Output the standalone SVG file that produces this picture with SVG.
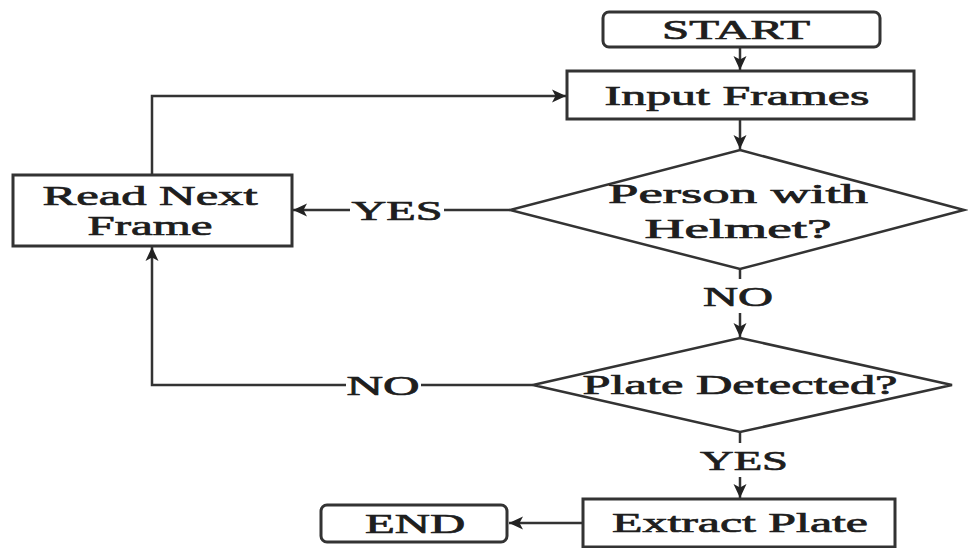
<svg xmlns="http://www.w3.org/2000/svg" width="968" height="548" viewBox="0 0 968 548">
<defs>
<marker id="ah" markerUnits="userSpaceOnUse" markerWidth="16" markerHeight="14" refX="14" refY="7" orient="auto">
<path d="M0,0.5 L14,7 L0,13.5 L3.5,7 z" fill="#222"/>
</marker>
<style>
.box{fill:#fff;stroke:#333;stroke-width:3}
.dia{fill:#fff;stroke:#333;stroke-width:2.5}
.ln{fill:none;stroke:#333;stroke-width:2.5}
.t{font-family:"Liberation Serif","Times New Roman",serif;font-size:27px;font-weight:normal;fill:#1e1e1e;stroke:#1e1e1e;stroke-width:0.7;text-anchor:middle}
</style>
</defs>
<rect width="968" height="548" fill="#fff"/>
<g id="connectors">
<line class="ln" x1="740" y1="47" x2="740" y2="70" marker-end="url(#ah)"/>
<line class="ln" x1="740" y1="119" x2="740" y2="149" marker-end="url(#ah)"/>
<polyline class="ln" points="510,210 444,210"/>
<line class="ln" x1="350" y1="210" x2="293" y2="210" marker-end="url(#ah)"/>
<polyline class="ln" points="152,175 152,96 566,96" marker-end="url(#ah)"/>
<line class="ln" x1="740" y1="269" x2="740" y2="279"/>
<line class="ln" x1="740" y1="313" x2="740" y2="337" marker-end="url(#ah)"/>
<line class="ln" x1="533" y1="385" x2="421" y2="385"/>
<polyline class="ln" points="346,385 152,385 152,247" marker-end="url(#ah)"/>
<line class="ln" x1="740" y1="432" x2="740" y2="443"/>
<line class="ln" x1="740" y1="477" x2="740" y2="498" marker-end="url(#ah)"/>
<line class="ln" x1="583" y1="523" x2="509" y2="523" marker-end="url(#ah)"/>
<text class="t" transform="translate(397,220) scale(1.8,1)" x="0" y="0" textLength="50.6" lengthAdjust="spacingAndGlyphs">YES</text>
<text class="t" transform="translate(738,306) scale(1.8,1)" x="0" y="0" textLength="38.9" lengthAdjust="spacingAndGlyphs">NO</text>
<text class="t" transform="translate(383,395) scale(1.8,1)" x="0" y="0" textLength="40.6" lengthAdjust="spacingAndGlyphs">NO</text>
<text class="t" transform="translate(744,470) scale(1.8,1)" x="0" y="0" textLength="48.9" lengthAdjust="spacingAndGlyphs">YES</text>
</g>
<g id="start">
<rect class="box" x="603" y="12" width="277" height="35" rx="6"/>
<text class="t" transform="translate(736,39) scale(1.8,1)" x="0" y="0" textLength="82.2" lengthAdjust="spacingAndGlyphs">START</text>
</g>
<g id="input">
<rect class="box" x="567" y="71" width="347" height="48"/>
<text class="t" transform="translate(737,105) scale(1.8,1)" x="0" y="0" textLength="147.2" lengthAdjust="spacingAndGlyphs">Input Frames</text>
</g>
<g id="helmet">
<polygon class="dia" points="740,150 964,210 740,269 510,210"/>
<text class="t" transform="translate(738,203) scale(1.8,1)" x="0" y="0" textLength="144.4" lengthAdjust="spacingAndGlyphs">Person with</text>
<text class="t" transform="translate(738,238) scale(1.8,1)" x="0" y="0" textLength="103.9" lengthAdjust="spacingAndGlyphs">Helmet?</text>
</g>
<g id="readnext">
<rect class="box" x="13" y="175" width="279" height="71"/>
<text class="t" transform="translate(150,205) scale(1.8,1)" x="0" y="0" textLength="119.4" lengthAdjust="spacingAndGlyphs">Read Next</text>
<text class="t" transform="translate(150,235) scale(1.8,1)" x="0" y="0" textLength="69.4" lengthAdjust="spacingAndGlyphs">Frame</text>
</g>
<g id="plate">
<polygon class="dia" points="740,338 952,385 740,432 533,385"/>
<text class="t" transform="translate(740,394) scale(1.8,1)" x="0" y="0" textLength="175" lengthAdjust="spacingAndGlyphs">Plate Detected?</text>
</g>
<g id="extract">
<rect class="box" x="583" y="499" width="312" height="48"/>
<text class="t" transform="translate(740,532) scale(1.8,1)" x="0" y="0" textLength="142.2" lengthAdjust="spacingAndGlyphs">Extract Plate</text>
</g>
<g id="end">
<rect class="box" x="321" y="505" width="186" height="37" rx="6"/>
<text class="t" transform="translate(415,533) scale(1.8,1)" x="0" y="0" textLength="55.6" lengthAdjust="spacingAndGlyphs">END</text>
</g>
</svg>
